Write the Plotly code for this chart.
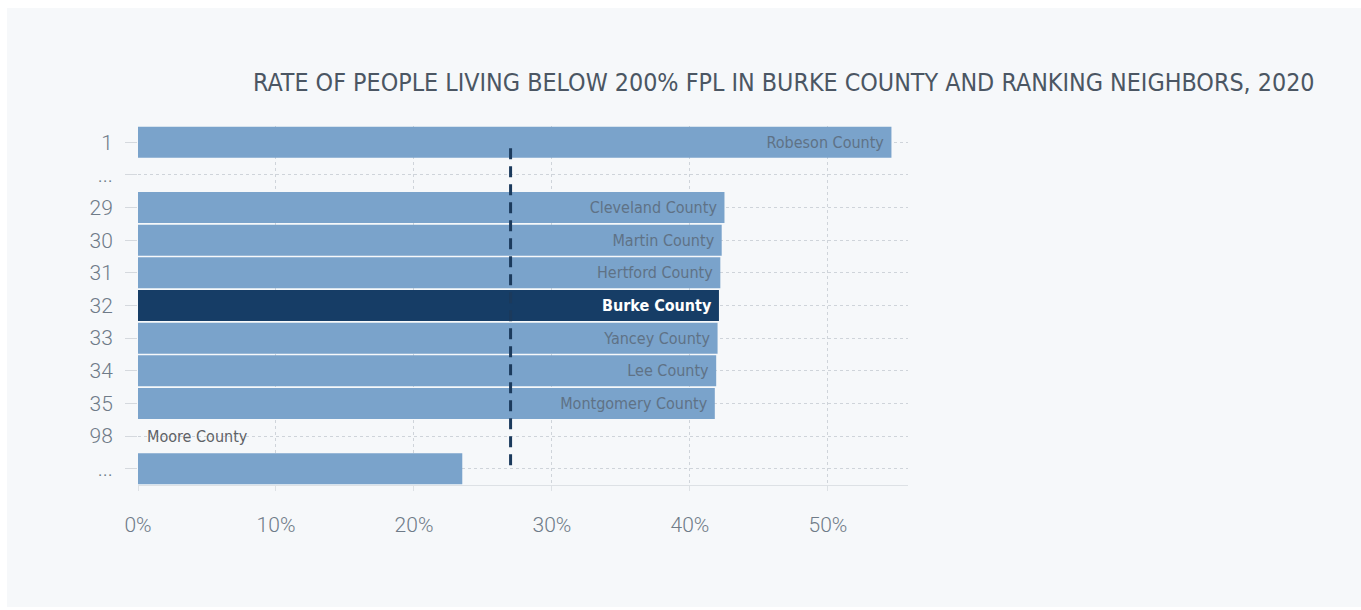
import plotly.graph_objects as go

# Rank labels shown on the y axis (top to bottom)
rank_labels = ["1", "...", "29", "30", "31", "32", "33", "34", "35", "98", "..."]
# Counties and their share of residents below 200% FPL (percent)
counties = ["Robeson County", None, "Cleveland County", "Martin County", "Hertford County",
            "Burke County", "Yancey County", "Lee County", "Montgomery County", None, None]
rates = [54.6, None, 42.5, 42.3, 42.2, 42.1, 42.0, 41.9, 41.8, None, 23.5]
# Label shown on its own in the row for rank 98
moore_label = "Moore County"
moore_row = 9
# State-wide reference rate (percent)
state_rate = 27.0
x_ticks = [0, 10, 20, 30, 40, 50]

BG = "#f6f8fa"
BAR = "#7aa3cb"
HIGHLIGHT = "#163d66"
GRID = "#cfd4da"
TXT = "#6f7b88"
COND = "DejaVu Sans Condensed, Liberation Sans Narrow, sans-serif"
TICKFONT = "Roboto, Lato, sans-serif"

rows = list(range(len(rank_labels)))
colors = [HIGHLIGHT if c == "Burke County" else BAR for c in counties]
# Trailing non-breaking spaces keep the labels a little off the bar ends
texts = [(("<b>%s</b>" % c if c == "Burke County" else c) + "\u00a0") if c else "" for c in counties]
text_colors = ["#ffffff" if c == "Burke County" else "#5f7286" for c in counties]

fig = go.Figure()
fig.add_trace(go.Bar(
    x=rates, y=rows, orientation="h",
    marker=dict(color=colors, line=dict(width=0)),
    text=texts, textposition="inside", insidetextanchor="end",
    textfont=dict(family=COND, size=16, color=text_colors),
    constraintext="none", cliponaxis=False, hoverinfo="skip",
))

fig.add_shape(type="line", x0=state_rate, x1=state_rate, y0=0.18, y1=10.0,
              xref="x", yref="y", line=dict(color="#1b3a5c", width=3, dash="11px,7px"))

fig.add_annotation(x=0, y=moore_row, xref="x", yref="y", text=moore_label,
                   showarrow=False, xanchor="left", xshift=7,
                   font=dict(family=COND, size=16, color="#5e6266"))

# White frame around the grey panel (top, left, bottom)
fig.add_shape(type="rect", xref="paper", yref="paper", x0=-138/770, x1=(1361-138)/770,
              y0=1 + (126 - 8) / 359, y1=1.5, fillcolor="white", line_width=0, layer="below")
fig.add_shape(type="rect", xref="paper", yref="paper", x0=-0.3, x1=-(138 - 7) / 770,
              y0=-0.5, y1=1.5, fillcolor="white", line_width=0, layer="below")
fig.add_shape(type="rect", xref="paper", yref="paper", x0=-138/770, x1=(1361-138)/770,
              y0=-0.5, y1=-(607 - 485) / 359, fillcolor="white", line_width=0, layer="below")

fig.update_layout(
    width=1361, height=610,
    margin=dict(l=138, r=453, t=126, b=125),
    paper_bgcolor=BG, plot_bgcolor=BG,
    showlegend=False, bargap=0.05,
    title=dict(text="RATE OF PEOPLE LIVING BELOW 200% FPL IN BURKE COUNTY AND RANKING NEIGHBORS, 2020",
               x=253/1361, xanchor="left", y=1 - 82/610, yanchor="middle",
               font=dict(family=COND, size=24.8, color="#4b5663")),
    font=dict(family=TICKFONT, color=TXT),
)
fig.update_xaxes(
    range=[0, 55.8], tickvals=x_ticks, ticktext=["%d%%" % v for v in x_ticks],
    showgrid=True, gridcolor=GRID, griddash="dot", gridwidth=1,
    zeroline=False, showline=True, linecolor="#dde1e5", linewidth=1,
    ticks="outside", ticklen=5, tickcolor="#dde1e5",
    tickfont=dict(family=TICKFONT, size=21, color=TXT, weight=300),
    ticklabelstandoff=16, fixedrange=True,
)
fig.update_yaxes(
    range=[10.5, -0.5], tickvals=rows, ticktext=rank_labels,
    showgrid=True, gridcolor=GRID, griddash="dot", gridwidth=1,
    zeroline=False, showline=False,
    ticks="outside", ticklen=12, tickcolor="#d5d9de",
    tickfont=dict(family=TICKFONT, size=21, color=TXT, weight=300),
    ticklabelstandoff=8, fixedrange=True,
)

fig.write_html("out.html", config={"displayModeBar": False})
